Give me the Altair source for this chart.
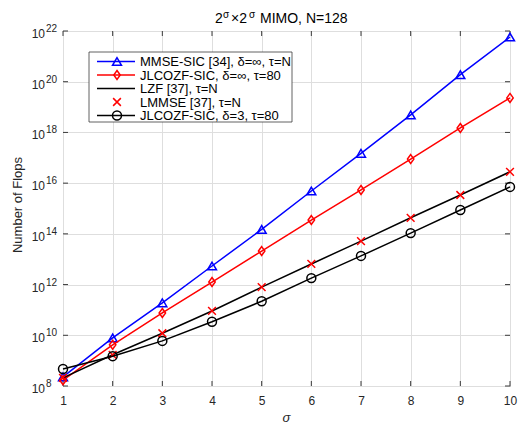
import altair as alt
import pandas as pd

# Complexity (number of flops) versus sigma for 2^sigma x 2^sigma MIMO, N=128
sigma = list(range(1, 11))
mmse_sic = [2.3e8, 7.9e9, 1.9e11, 5.4e12, 1.5e14, 4.9e15, 1.5e17, 4.9e18, 1.9e20, 5.8e21]
jlcozf_inf = [1.7e8, 4.2e9, 7.6e10, 1.26e12, 2.1e13, 3.5e14, 5.4e15, 8.9e16, 1.5e18, 2.3e19]
lzf = [2.1e8, 1.7e9, 1.2e10, 9.1e10, 7.9e11, 6.5e12, 5.2e13, 4.3e14, 3.4e15, 2.8e16]
lmmse = [2.1e8, 1.7e9, 1.2e10, 9.1e10, 7.9e11, 6.5e12, 5.2e13, 4.3e14, 3.4e15, 2.8e16]
jlcozf_3 = [4.7e8, 1.5e9, 6.0e9, 3.4e10, 2.2e11, 1.8e12, 1.35e13, 1.07e14, 8.7e14, 7.1e15]

legend_labels = [
    "MMSE-SIC [34], δ=∞, τ=N",
    "JLCOZF-SIC, δ=∞, τ=80",
    "LZF [37], τ=N",
    "LMMSE [37], τ=N",
    "JLCOZF-SIC, δ=3, τ=80",
]
y_exponents = [8, 10, 12, 14, 16, 18, 20, 22]

FONT = "Liberation Sans"
W, H = 447, 355
AXIS_COLOR = "#3a3a3a"
GRID_COLOR = "#dedede"
TEXT_COLOR = "#262626"

X_PATH = "M-1,-1L1,1M-1,1L1,-1"
DIAMOND_PATH = "M0,-1L0.72,0L0,1L-0.72,0Z"

xs = alt.Scale(domain=[1, 10], nice=False)
ys = alt.Scale(type="log", domain=[1e8, 1e22], nice=False)

# series: (values, color, marker shape, draw line, draw marker)
series = [
    (mmse_sic, "#0000ff", "triangle-up", True, True),
    (jlcozf_inf, "#ff0000", DIAMOND_PATH, True, True),
    (lzf, "#000000", None, True, False),
    (lmmse, "#ff0000", X_PATH, False, True),
    (jlcozf_3, "#000000", "circle", True, True),
]


def one_row():
    return alt.Chart(pd.DataFrame({"k": [0]}))


def marker_size(shape):
    return 60 if shape == X_PATH else 80


layers = []

# grid and x tick labels
grid_df = pd.DataFrame({"s": sigma, "v": [1e8] * len(sigma)})
layers.append(
    alt.Chart(grid_df).mark_point(opacity=0).encode(
        x=alt.X("s:Q", scale=xs, axis=alt.Axis(
            values=sigma, grid=True, gridColor=GRID_COLOR, gridWidth=1,
            ticks=False, domain=False, labelFont=FONT, labelFontSize=12,
            labelColor=TEXT_COLOR, labelPadding=9, title=None, labelFlush=False)),
        y=alt.Y("v:Q", scale=ys, axis=alt.Axis(
            values=[10.0 ** e for e in y_exponents], grid=True, gridColor=GRID_COLOR,
            gridWidth=1, ticks=False, domain=False, labels=False, title=None)),
    )
)

# inward ticks on all four sides
xt = pd.DataFrame({"s": sigma})
for y0, y1 in [(H, H - 5), (0, 5)]:
    layers.append(alt.Chart(xt).mark_rule(color=AXIS_COLOR, strokeWidth=1).encode(
        x=alt.X("s:Q", scale=xs), y=alt.value(y0), y2=alt.value(y1)))
yt = pd.DataFrame({"v": [10.0 ** e for e in y_exponents]})
for x0, x1 in [(0, 5), (W, W - 5)]:
    layers.append(alt.Chart(yt).mark_rule(color=AXIS_COLOR, strokeWidth=1).encode(
        y=alt.Y("v:Q", scale=ys), x=alt.value(x0), x2=alt.value(x1)))

# y tick labels as 10 with a raised exponent
ylab = pd.DataFrame({"v": [10.0 ** e for e in y_exponents],
                     "e": [str(e) for e in y_exponents]})
layers.append(alt.Chart(ylab).mark_text(
    align="right", baseline="middle", dy=3, font=FONT, fontSize=12, color=TEXT_COLOR
).encode(y=alt.Y("v:Q", scale=ys), x=alt.value(-18), text=alt.value("10")))
layers.append(alt.Chart(ylab).mark_text(
    align="left", baseline="middle", dy=-2, font=FONT, fontSize=10, color=TEXT_COLOR
).encode(y=alt.Y("v:Q", scale=ys), x=alt.value(-17), text="e:N"))

# data series
for vals, color, shape, line, marker in series:
    d = pd.DataFrame({"s": sigma, "f": vals})
    if line:
        layers.append(alt.Chart(d).mark_line(color=color, strokeWidth=1.5).encode(
            x=alt.X("s:Q", scale=xs), y=alt.Y("f:Q", scale=ys)))
    if marker:
        layers.append(alt.Chart(d).mark_point(
            shape=shape, filled=False, color=color, strokeWidth=1.5,
            size=marker_size(shape), opacity=1).encode(
            x=alt.X("s:Q", scale=xs), y=alt.Y("f:Q", scale=ys)))

# legend
layers.append(one_row().mark_rect(fill="white", stroke=AXIS_COLOR, strokeWidth=0.8).encode(
    x=alt.value(26), x2=alt.value(229), y=alt.value(21), y2=alt.value(91)))
for i, (label, (vals, color, shape, line, marker)) in enumerate(zip(legend_labels, series)):
    yy = 30.5 + 13.5 * i
    if line:
        layers.append(one_row().mark_rule(color=color, strokeWidth=1.5).encode(
            x=alt.value(34), x2=alt.value(72), y=alt.value(yy)))
    if marker:
        layers.append(one_row().mark_point(
            shape=shape, filled=False, color=color, strokeWidth=1.5,
            size=marker_size(shape), opacity=1).encode(
            x=alt.value(54), y=alt.value(yy)))
    layers.append(one_row().mark_text(
        align="left", baseline="middle", font=FONT, fontSize=13, color="#000000").encode(
        x=alt.value(77), y=alt.value(yy + 0.5), text=alt.value(label)))

# title: 2^σ × 2^σ MIMO, N=128
title_parts = [("2", 152, 14, 0), ("σ", 160, 10, -5), ("×2", 168, 14, 0),
               ("σ", 186, 10, -5), ("MIMO, N=128", 197, 14, 0)]
for txt, tx, fs, dy in title_parts:
    layers.append(one_row().mark_text(
        align="left", baseline="alphabetic", font=FONT, fontSize=fs, color="#000000").encode(
        x=alt.value(tx), y=alt.value(-8 + dy), text=alt.value(txt)))

# axis titles
layers.append(one_row().mark_text(
    align="center", baseline="middle", font=FONT, fontSize=13, fontStyle="italic",
    color=TEXT_COLOR).encode(
    x=alt.value(W / 2), y=alt.value(H + 32), text=alt.value("σ")))
layers.append(one_row().mark_text(
    align="center", baseline="middle", font=FONT, fontSize=13, angle=270,
    color=TEXT_COLOR).encode(
    x=alt.value(-45), y=alt.value(174), text=alt.value("Number of Flops")))

chart = alt.layer(*layers).properties(
    width=W, height=H,
    padding={"left": 63, "top": 31, "right": 22, "bottom": 40},
    autosize=alt.AutoSizeParams(type="none"),
    background="white",
).configure_view(stroke=AXIS_COLOR, strokeWidth=1)

chart.save("out.html", embed_options={"renderer": "svg", "actions": False})
